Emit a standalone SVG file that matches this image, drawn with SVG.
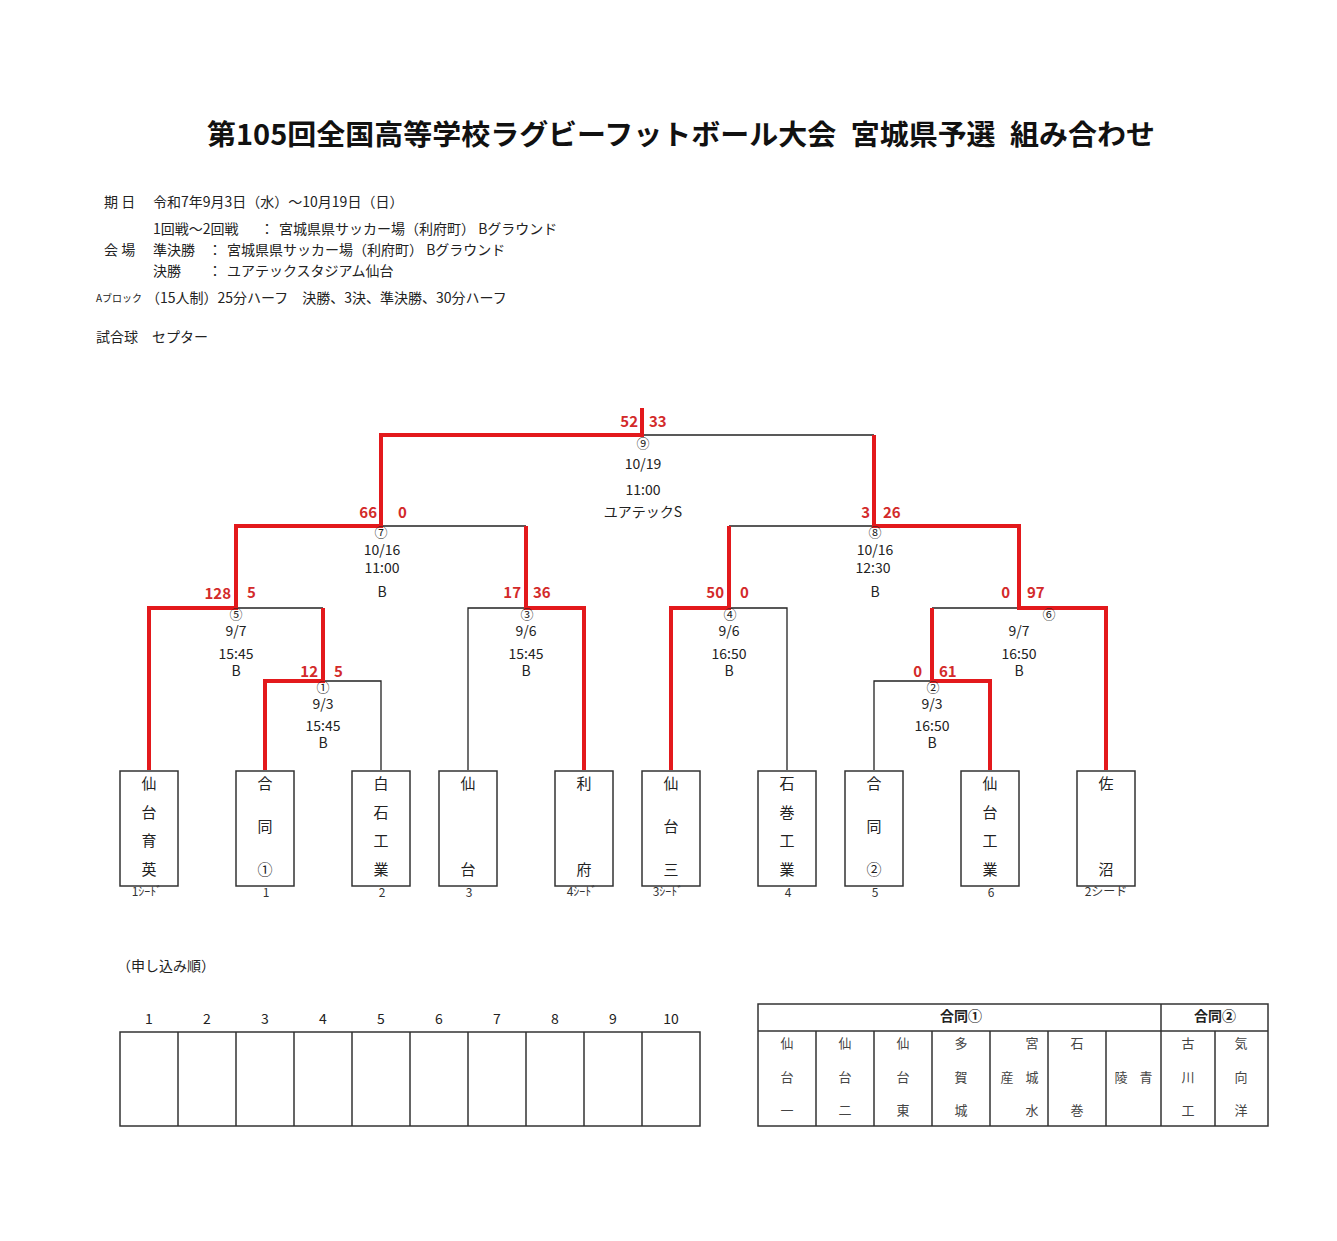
<svg xmlns="http://www.w3.org/2000/svg" width="1337" height="1241" viewBox="0 0 1337 1241">
<style>
text{font-family:"Noto Sans CJK JP","Noto Sans",sans-serif;fill:#222}
.t{font-size:14px}
.m{font-size:14px;text-anchor:middle}
.n{font-size:15px;text-anchor:middle}
.cn{font-size:13px;text-anchor:middle}
.sl{font-size:15px;font-weight:bold;fill:#d32a2a;text-anchor:end}
.sr{font-size:15px;font-weight:bold;fill:#d32a2a;text-anchor:start}
.lb{font-size:12px;text-anchor:middle;fill:#333}
.g{font-size:13px;text-anchor:middle;fill:#444}
.r{stroke:#e3191c;stroke-width:4;fill:none;stroke-linejoin:miter}
.k{stroke:#222;stroke-width:1.3;fill:none}
.box{fill:#fff;stroke:#333;stroke-width:1.5}
.tb{fill:none;stroke:#333;stroke-width:1.5}
</style>
<rect width="1337" height="1241" fill="#fff"/>
<g id="header">
<text x="681" y="145" text-anchor="middle" font-size="28" font-weight="bold" textLength="948" lengthAdjust="spacingAndGlyphs" style="fill:#111">第105回全国高等学校ラグビーフットボール大会&#x2002;宮城県予選&#x2002;組み合わせ</text>
<text class="t" x="104" y="207">期 日</text>
<text class="t" x="153" y="207">令和7年9月3日（水）～10月19日（日）</text>
<text class="t" x="153" y="234">1回戦～2回戦</text>
<text class="t" x="260" y="234">：</text>
<text class="t" x="279" y="234">宮城県県サッカー場（利府町） Bグラウンド</text>
<text class="t" x="104" y="255">会 場</text>
<text class="t" x="153" y="255">準決勝</text>
<text class="t" x="208" y="255">：</text>
<text class="t" x="227" y="255">宮城県県サッカー場（利府町） Bグラウンド</text>
<text class="t" x="153" y="276">決勝</text>
<text class="t" x="208" y="276">：</text>
<text class="t" x="227" y="276">ユアテックスタジアム仙台</text>
<text x="96" y="302" font-size="10">Aブロック</text>
<text class="t" x="146" y="303">（15人制）25分ハーフ　決勝、3決、準決勝、30分ハーフ</text>
<text class="t" x="96" y="342">試合球　セプター</text>
</g>
<g id="connectors">
<polyline class="k" points="642,435 874,435"/>
<polyline class="k" points="381,526 526,526"/>
<polyline class="k" points="729,526 874,526"/>
<polyline class="k" points="236,608 323,608"/>
<polyline class="k" points="526,608 468,608 468,770"/>
<polyline class="k" points="729,608 787,608 787,770"/>
<polyline class="k" points="932,608 1019,608"/>
<polyline class="k" points="323,681 381,681 381,770"/>
<polyline class="k" points="932,681 874,681 874,770"/>
<polyline class="r" points="149,770 149,608 236,608 236,526 381,526 381,435 642,435 642,408"/>
<polyline class="r" points="265,770 265,681 323,681 323,608"/>
<polyline class="r" points="584,770 584,608 526,608 526,526"/>
<polyline class="r" points="671,770 671,608 729,608 729,526"/>
<polyline class="r" points="1106,770 1106,608 1019,608 1019,526 874,526 874,435"/>
<polyline class="r" points="990,770 990,681 932,681 932,608"/>
</g>
<g id="match9">
<text class="cn" x="643" y="448">⑨</text>
<text class="sl" x="638" y="427">52</text><text class="sr" x="649" y="427">33</text>
<text class="m" x="643" y="469">10/19</text>
<text class="m" x="643" y="495">11:00</text>
<text class="m" x="643" y="517">ユアテックS</text>
</g>
<g id="match7">
<text class="cn" x="381" y="537">⑦</text>
<text class="sl" x="377" y="518">66</text><text class="sr" x="398" y="518">0</text>
<text class="m" x="382" y="555">10/16</text>
<text class="m" x="382" y="573">11:00</text>
<text class="m" x="382" y="597">B</text>
</g>
<g id="match8">
<text class="cn" x="875" y="537">⑧</text>
<text class="sl" x="870" y="518">3</text><text class="sr" x="883" y="518">26</text>
<text class="m" x="875" y="555">10/16</text>
<text class="m" x="873" y="573">12:30</text>
<text class="m" x="875" y="597">B</text>
</g>
<g id="match5">
<text class="cn" x="236" y="619">⑤</text>
<text class="sl" x="231" y="599">128</text><text class="sr" x="247" y="598">5</text>
<text class="m" x="236" y="636">9/7</text>
<text class="m" x="236" y="659">15:45</text>
<text class="m" x="236" y="676">B</text>
</g>
<g id="match3">
<text class="cn" x="527" y="619">③</text>
<text class="sl" x="521" y="598">17</text><text class="sr" x="533" y="598">36</text>
<text class="m" x="526" y="636">9/6</text>
<text class="m" x="526" y="659">15:45</text>
<text class="m" x="526" y="676">B</text>
</g>
<g id="match4">
<text class="cn" x="730" y="619">④</text>
<text class="sl" x="724" y="598">50</text><text class="sr" x="740" y="598">0</text>
<text class="m" x="729" y="636">9/6</text>
<text class="m" x="729" y="659">16:50</text>
<text class="m" x="729" y="676">B</text>
</g>
<g id="match6">
<text class="cn" x="1049" y="619">⑥</text>
<text class="sl" x="1010" y="598">0</text><text class="sr" x="1027" y="598">97</text>
<text class="m" x="1019" y="636">9/7</text>
<text class="m" x="1019" y="659">16:50</text>
<text class="m" x="1019" y="676">B</text>
</g>
<g id="match1">
<text class="cn" x="323" y="692">①</text>
<text class="sl" x="318" y="677">12</text><text class="sr" x="334" y="677">5</text>
<text class="m" x="323" y="709">9/3</text>
<text class="m" x="323" y="731">15:45</text>
<text class="m" x="323" y="748">B</text>
</g>
<g id="match2">
<text class="cn" x="933" y="692">②</text>
<text class="sl" x="922" y="677">0</text><text class="sr" x="939" y="677">61</text>
<text class="m" x="932" y="709">9/3</text>
<text class="m" x="932" y="731">16:50</text>
<text class="m" x="932" y="748">B</text>
</g>
<g id="team1"><rect class="box" x="120" y="771" width="58" height="115"/>
<text class="n" x="149" y="789">仙</text><text class="n" x="149" y="818">台</text><text class="n" x="149" y="846">育</text><text class="n" x="149" y="875">英</text>
<text class="lb" x="147" y="896">1ｼｰﾄﾞ</text></g>
<g id="team2"><rect class="box" x="236" y="771" width="58" height="115"/>
<text class="n" x="265" y="789">合</text><text class="n" x="265" y="832">同</text><text class="n" x="265" y="875">①</text>
<text class="lb" x="266" y="897">1</text></g>
<g id="team3"><rect class="box" x="352" y="771" width="58" height="115"/>
<text class="n" x="381" y="789">白</text><text class="n" x="381" y="818">石</text><text class="n" x="381" y="846">工</text><text class="n" x="381" y="875">業</text>
<text class="lb" x="382" y="897">2</text></g>
<g id="team4"><rect class="box" x="439" y="771" width="58" height="115"/>
<text class="n" x="468" y="789">仙</text><text class="n" x="468" y="875">台</text>
<text class="lb" x="469" y="897">3</text></g>
<g id="team5"><rect class="box" x="555" y="771" width="58" height="115"/>
<text class="n" x="584" y="789">利</text><text class="n" x="584" y="875">府</text>
<text class="lb" x="582" y="896">4ｼｰﾄﾞ</text></g>
<g id="team6"><rect class="box" x="642" y="771" width="58" height="115"/>
<text class="n" x="671" y="789">仙</text><text class="n" x="671" y="832">台</text><text class="n" x="671" y="875">三</text>
<text class="lb" x="668" y="896">3ｼｰﾄﾞ</text></g>
<g id="team7"><rect class="box" x="758" y="771" width="58" height="115"/>
<text class="n" x="787" y="789">石</text><text class="n" x="787" y="818">巻</text><text class="n" x="787" y="846">工</text><text class="n" x="787" y="875">業</text>
<text class="lb" x="788" y="897">4</text></g>
<g id="team8"><rect class="box" x="845" y="771" width="58" height="115"/>
<text class="n" x="874" y="789">合</text><text class="n" x="874" y="832">同</text><text class="n" x="874" y="875">②</text>
<text class="lb" x="875" y="897">5</text></g>
<g id="team9"><rect class="box" x="961" y="771" width="58" height="115"/>
<text class="n" x="990" y="789">仙</text><text class="n" x="990" y="818">台</text><text class="n" x="990" y="846">工</text><text class="n" x="990" y="875">業</text>
<text class="lb" x="991" y="897">6</text></g>
<g id="team10"><rect class="box" x="1077" y="771" width="58" height="115"/>
<text class="n" x="1106" y="789">佐</text><text class="n" x="1106" y="875">沼</text>
<text class="lb" x="1106" y="896">2シード</text></g>
<g id="entry-order">
<text class="t" x="117" y="971">（申し込み順）</text>
<text class="m" x="149" y="1024">1</text><text class="m" x="207" y="1024">2</text><text class="m" x="265" y="1024">3</text><text class="m" x="323" y="1024">4</text><text class="m" x="381" y="1024">5</text><text class="m" x="439" y="1024">6</text><text class="m" x="497" y="1024">7</text><text class="m" x="555" y="1024">8</text><text class="m" x="613" y="1024">9</text><text class="m" x="671" y="1024">10</text>
<rect class="tb" x="120" y="1032" width="580" height="94"/>
<path class="tb" d="M178,1032V1126M236,1032V1126M294,1032V1126M352,1032V1126M410,1032V1126M468,1032V1126M526,1032V1126M584,1032V1126M642,1032V1126"/>
</g>
<g id="joint-teams">
<rect class="tb" x="758" y="1004" width="510" height="122"/>
<path class="tb" d="M758,1031H1268M1161,1004V1126M816,1031V1126M874,1031V1126M932,1031V1126M990,1031V1126M1048,1031V1126M1106,1031V1126M1215,1031V1126"/>
<text class="m" x="961" y="1021" font-weight="bold">合同①</text>
<text class="m" x="1215" y="1021" font-weight="bold">合同②</text>
<text class="g" x="787" y="1048">仙</text><text class="g" x="787" y="1082">台</text><text class="g" x="787" y="1115">一</text>
<text class="g" x="845" y="1048">仙</text><text class="g" x="845" y="1082">台</text><text class="g" x="845" y="1115">二</text>
<text class="g" x="903" y="1048">仙</text><text class="g" x="903" y="1082">台</text><text class="g" x="903" y="1115">東</text>
<text class="g" x="961" y="1048">多</text><text class="g" x="961" y="1082">賀</text><text class="g" x="961" y="1115">城</text>
<text class="g" x="1032" y="1048">宮</text><text class="g" x="1007" y="1082">産</text><text class="g" x="1032" y="1082">城</text><text class="g" x="1032" y="1115">水</text>
<text class="g" x="1077" y="1048">石</text><text class="g" x="1077" y="1115">巻</text>
<text class="g" x="1121" y="1082">陵</text><text class="g" x="1146" y="1082">青</text>
<text class="g" x="1188" y="1048">古</text><text class="g" x="1188" y="1082">川</text><text class="g" x="1188" y="1115">工</text>
<text class="g" x="1241" y="1048">気</text><text class="g" x="1241" y="1082">向</text><text class="g" x="1241" y="1115">洋</text>
</g>
</svg>
